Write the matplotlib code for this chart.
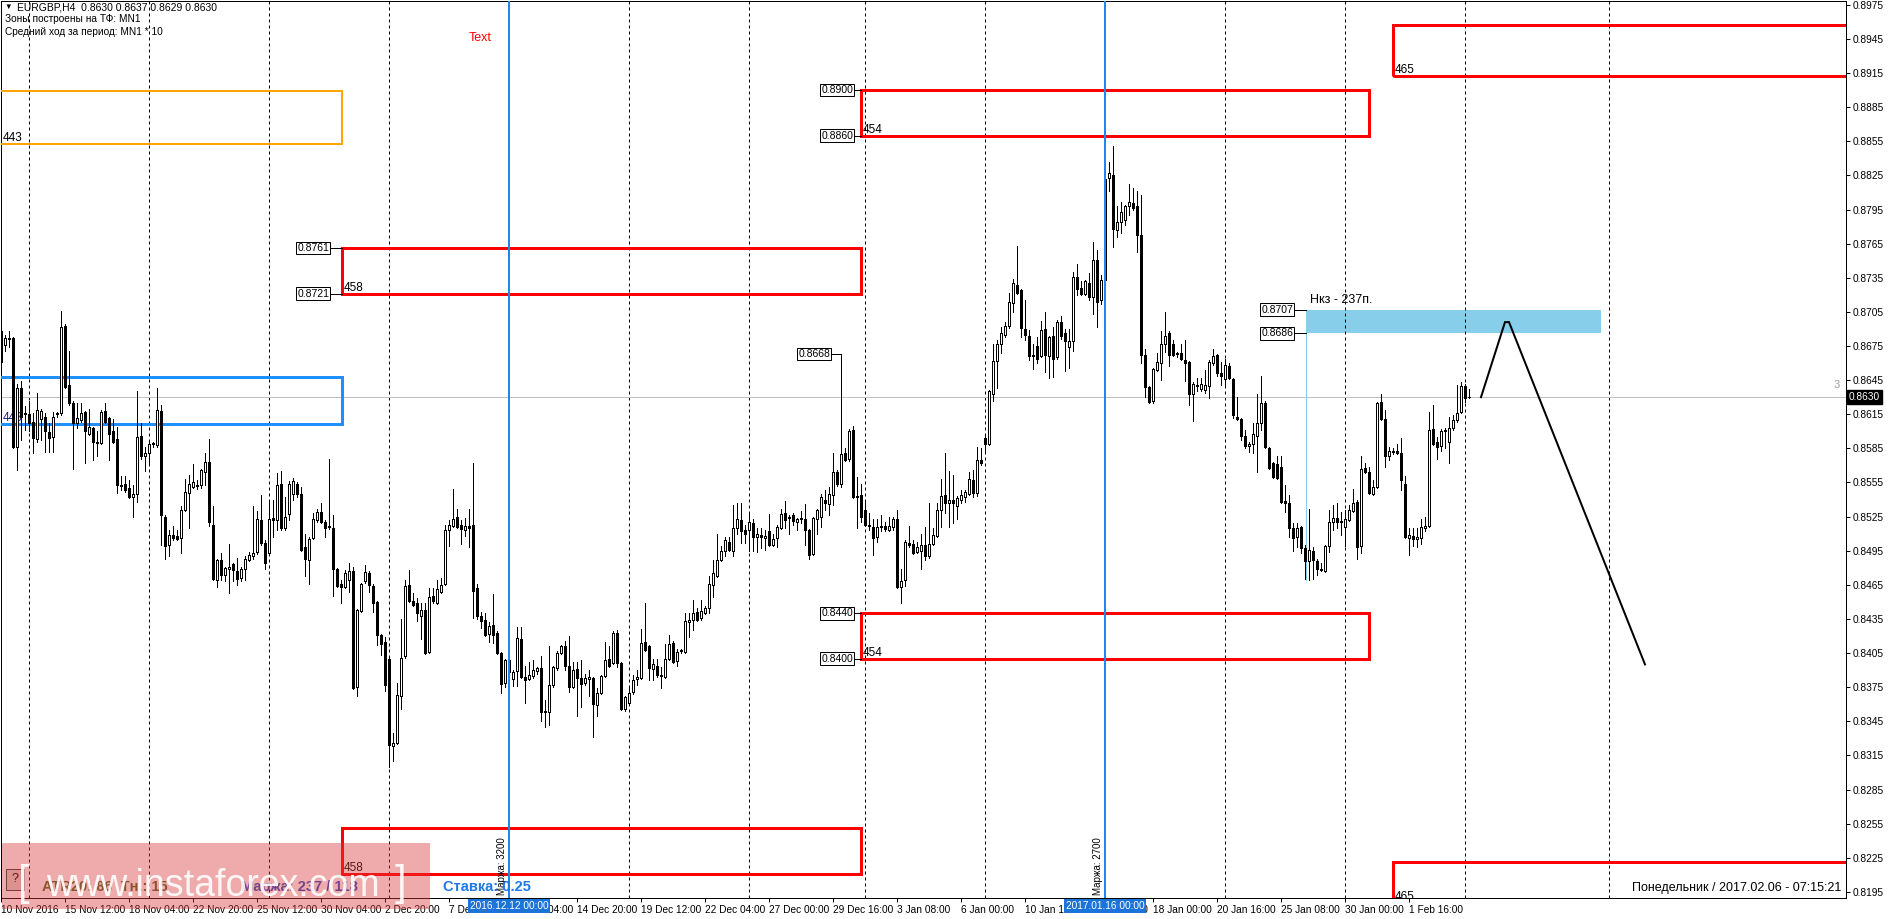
import matplotlib
matplotlib.use("Agg")
import matplotlib.pyplot as plt
from matplotlib.patches import Rectangle
from matplotlib.collections import LineCollection
import numpy as np

plt.rcParams['font.family'] = ['Liberation Sans', 'DejaVu Sans']

W, H, DPI = 1888, 919, 100
PX = 72.0 / DPI  # one pixel in points

# ------------------------------------------------------------------ data
# EURGBP H4 candles (price x 10000), bar 0 = 10 Nov 2016 20:00
opens_x1e4 = [
    8688, 8676, 8681, 8682, 8586, 8638, 8616, 8615, 8608, 8593,
    8611, 8613, 8599, 8595, 8615, 8616, 8693, 8641, 8625, 8607,
    8610, 8617, 8598, 8603, 8591, 8590, 8618, 8612, 8600, 8593,
    8553, 8554, 8550, 8542, 8545, 8596, 8578, 8581, 8589, 8588,
    8618, 8525, 8500, 8509, 8508, 8506, 8531, 8546, 8551, 8553,
    8553, 8564, 8573, 8518, 8469, 8487, 8474, 8479, 8483, 8477,
    8471, 8479, 8487, 8490, 8494, 8522, 8502, 8493, 8524, 8522,
    8554, 8515, 8527, 8545, 8554, 8545, 8498, 8487, 8506, 8522,
    8529, 8520, 8517, 8515, 8479, 8466, 8463, 8469, 8477, 8375,
    8442, 8468, 8475, 8464, 8450, 8421, 8415, 8400, 8323, 8326,
    8367, 8402, 8465, 8451, 8449, 8438, 8443, 8406, 8455, 8449,
    8459, 8466, 8513, 8517, 8525, 8518, 8513, 8517, 8518, 8462,
    8438, 8434, 8422, 8430, 8423, 8405, 8379, 8399, 8382, 8389,
    8417, 8384, 8382, 8385, 8389, 8392, 8354, 8353, 8377, 8392,
    8405, 8411, 8394, 8375, 8391, 8383, 8379, 8382, 8383, 8359,
    8370, 8385, 8400, 8396, 8423, 8396, 8356, 8361, 8371, 8382,
    8383, 8415, 8411, 8391, 8394, 8386, 8384, 8400, 8414, 8398,
    8407, 8406, 8432, 8434, 8441, 8436, 8440, 8445, 8465, 8473,
    8487, 8495, 8503, 8495, 8515, 8522, 8513, 8513, 8519, 8507,
    8509, 8506, 8512, 8500, 8506, 8515, 8528, 8525, 8526, 8520,
    8524, 8523, 8513, 8492, 8523, 8525, 8540, 8536, 8544, 8564,
    8554, 8581, 8576, 8601, 8543, 8544, 8531, 8518, 8516, 8507,
    8517, 8517, 8513, 8516, 8523, 8463, 8469, 8502, 8501, 8494,
    8495, 8500, 8490, 8501, 8508, 8531, 8544, 8537, 8540, 8534,
    8540, 8542, 8545, 8557, 8546, 8575, 8594, 8589, 8633, 8662,
    8677, 8685, 8693, 8713, 8729, 8724, 8690, 8684, 8667, 8675,
    8666, 8690, 8666, 8684, 8665, 8696, 8686, 8674, 8679, 8736,
    8726, 8721, 8730, 8718, 8751, 8715, 8733, 8823, 8825, 8777,
    8784, 8786, 8798, 8801, 8798, 8773, 8667, 8639, 8627, 8654,
    8660, 8677, 8686, 8677, 8669, 8669, 8663, 8661, 8633, 8641,
    8637, 8636, 8640, 8660, 8667, 8651, 8646, 8657, 8646, 8613,
    8611, 8596, 8587, 8589, 8596, 8607, 8625, 8585, 8572, 8571,
    8569, 8539, 8537, 8515, 8507, 8516, 8497, 8486, 8495, 8486,
    8479, 8477, 8499, 8520, 8524, 8521, 8516, 8522, 8530, 8538,
    8499, 8568, 8564, 8545, 8551, 8626, 8611, 8578, 8583, 8583,
    8581, 8554, 8506, 8508, 8505, 8506, 8515, 8517, 8602, 8591,
    8587, 8600, 8591, 8603, 8610, 8617, 8640, 8630,
]
highs_x1e4 = [
    8690, 8685, 8688, 8683, 8642, 8644, 8622, 8627, 8616, 8634,
    8620, 8616, 8607, 8617, 8617, 8706, 8694, 8671, 8627, 8625,
    8625, 8618, 8620, 8604, 8600, 8619, 8625, 8613, 8611, 8604,
    8561, 8561, 8557, 8553, 8635, 8607, 8586, 8592, 8591, 8638,
    8623, 8526, 8513, 8517, 8513, 8534, 8558, 8562, 8571, 8557,
    8567, 8581, 8593, 8534, 8488, 8493, 8481, 8501, 8484, 8489,
    8481, 8490, 8494, 8534, 8530, 8544, 8504, 8540, 8540, 8563,
    8565, 8542, 8556, 8559, 8555, 8551, 8510, 8507, 8528, 8532,
    8537, 8522, 8576, 8526, 8480, 8469, 8478, 8484, 8481, 8444,
    8467, 8482, 8477, 8466, 8451, 8422, 8419, 8401, 8335, 8379,
    8435, 8469, 8478, 8458, 8453, 8449, 8449, 8462, 8462, 8469,
    8471, 8518, 8522, 8549, 8532, 8522, 8524, 8532, 8572, 8466,
    8441, 8440, 8432, 8457, 8424, 8406, 8400, 8402, 8390, 8428,
    8428, 8394, 8397, 8399, 8393, 8402, 8364, 8411, 8394, 8407,
    8412, 8416, 8420, 8397, 8397, 8399, 8387, 8390, 8384, 8374,
    8386, 8415, 8411, 8424, 8425, 8397, 8367, 8375, 8386, 8390,
    8426, 8449, 8412, 8400, 8400, 8393, 8413, 8421, 8416, 8409,
    8409, 8440, 8440, 8452, 8445, 8452, 8446, 8473, 8487, 8510,
    8499, 8507, 8507, 8535, 8537, 8537, 8518, 8528, 8523, 8515,
    8515, 8513, 8527, 8510, 8518, 8532, 8539, 8526, 8528, 8524,
    8530, 8536, 8514, 8525, 8532, 8545, 8548, 8551, 8581, 8566,
    8668, 8585, 8602, 8605, 8560, 8554, 8540, 8528, 8523, 8523,
    8526, 8520, 8525, 8525, 8531, 8479, 8504, 8517, 8504, 8503,
    8510, 8516, 8537, 8515, 8537, 8558, 8581, 8565, 8562, 8543,
    8548, 8548, 8564, 8566, 8586, 8585, 8598, 8636, 8677, 8680,
    8692, 8696, 8722, 8734, 8763, 8725, 8715, 8689, 8677, 8683,
    8697, 8705, 8684, 8692, 8698, 8701, 8690, 8690, 8740, 8747,
    8732, 8733, 8739, 8766, 8759, 8737, 8830, 8837, 8851, 8798,
    8802, 8799, 8817, 8814, 8811, 8808, 8672, 8640, 8656, 8669,
    8688, 8705, 8688, 8680, 8670, 8677, 8680, 8662, 8643, 8647,
    8647, 8654, 8663, 8672, 8668, 8661, 8664, 8660, 8647, 8630,
    8612, 8601, 8591, 8607, 8633, 8649, 8627, 8586, 8573, 8578,
    8578, 8553, 8544, 8519, 8519, 8517, 8500, 8532, 8498, 8488,
    8484, 8500, 8531, 8535, 8537, 8529, 8531, 8535, 8549, 8540,
    8578, 8572, 8569, 8557, 8626, 8633, 8619, 8586, 8585, 8589,
    8594, 8561, 8515, 8515, 8515, 8523, 8525, 8617, 8623, 8595,
    8602, 8603, 8613, 8614, 8641, 8643, 8642, 8637,
]
lows_x1e4 = [
    8660, 8671, 8674, 8585, 8566, 8592, 8601, 8600, 8581, 8591,
    8592, 8582, 8582, 8582, 8613, 8614, 8638, 8623, 8567, 8603,
    8608, 8572, 8597, 8575, 8578, 8589, 8607, 8575, 8590, 8546,
    8548, 8547, 8541, 8525, 8538, 8576, 8565, 8572, 8586, 8586,
    8500, 8488, 8490, 8504, 8504, 8493, 8530, 8515, 8550, 8549,
    8550, 8553, 8517, 8469, 8463, 8469, 8468, 8458, 8468, 8465,
    8468, 8469, 8486, 8488, 8492, 8500, 8479, 8491, 8507, 8513,
    8513, 8513, 8522, 8540, 8542, 8495, 8473, 8466, 8505, 8520,
    8519, 8507, 8514, 8455, 8463, 8449, 8462, 8459, 8373, 8367,
    8441, 8467, 8459, 8441, 8412, 8403, 8372, 8305, 8310, 8325,
    8356, 8401, 8450, 8446, 8433, 8417, 8404, 8405, 8449, 8448,
    8458, 8465, 8499, 8516, 8515, 8501, 8508, 8498, 8436, 8435,
    8427, 8420, 8415, 8414, 8404, 8370, 8375, 8380, 8376, 8376,
    8383, 8361, 8381, 8383, 8387, 8345, 8340, 8342, 8375, 8390,
    8404, 8390, 8371, 8374, 8350, 8358, 8377, 8367, 8331, 8350,
    8369, 8384, 8393, 8395, 8393, 8355, 8354, 8360, 8369, 8377,
    8382, 8407, 8381, 8381, 8384, 8374, 8383, 8399, 8396, 8394,
    8405, 8405, 8419, 8425, 8433, 8434, 8439, 8440, 8454, 8472,
    8486, 8490, 8495, 8490, 8510, 8502, 8502, 8495, 8495, 8494,
    8497, 8496, 8499, 8499, 8498, 8514, 8515, 8510, 8518, 8513,
    8519, 8500, 8488, 8491, 8510, 8516, 8531, 8526, 8535, 8552,
    8551, 8574, 8574, 8541, 8515, 8520, 8517, 8513, 8491, 8503,
    8512, 8512, 8512, 8513, 8462, 8449, 8464, 8498, 8492, 8493,
    8479, 8487, 8489, 8500, 8507, 8516, 8528, 8516, 8519, 8523,
    8537, 8538, 8544, 8542, 8543, 8570, 8581, 8588, 8627, 8638,
    8669, 8683, 8691, 8705, 8721, 8683, 8680, 8663, 8655, 8660,
    8665, 8652, 8647, 8648, 8664, 8681, 8653, 8656, 8671, 8720,
    8720, 8720, 8715, 8703, 8692, 8712, 8728, 8811, 8762, 8771,
    8774, 8781, 8790, 8795, 8758, 8660, 8630, 8625, 8625, 8653,
    8645, 8670, 8657, 8666, 8665, 8663, 8644, 8623, 8609, 8635,
    8635, 8634, 8629, 8658, 8649, 8641, 8641, 8646, 8612, 8610,
    8592, 8585, 8582, 8581, 8564, 8601, 8585, 8567, 8559, 8558,
    8537, 8529, 8507, 8495, 8498, 8493, 8470, 8469, 8470, 8474,
    8477, 8476, 8494, 8513, 8515, 8509, 8499, 8521, 8529, 8488,
    8493, 8563, 8545, 8544, 8550, 8610, 8569, 8575, 8580, 8580,
    8548, 8506, 8491, 8499, 8498, 8501, 8512, 8516, 8588, 8576,
    8583, 8585, 8572, 8601, 8608, 8616, 8626, 8629,
]
closes_x1e4 = [
    8661, 8682, 8682, 8586, 8638, 8613, 8615, 8607, 8594, 8619,
    8618, 8600, 8594, 8613, 8616, 8692, 8639, 8625, 8607, 8612,
    8616, 8600, 8604, 8591, 8590, 8617, 8608, 8598, 8591, 8553,
    8552, 8548, 8542, 8545, 8595, 8578, 8581, 8589, 8590, 8619,
    8526, 8499, 8509, 8506, 8505, 8531, 8547, 8554, 8555, 8552,
    8566, 8573, 8520, 8470, 8487, 8474, 8480, 8481, 8478, 8470,
    8479, 8488, 8491, 8493, 8523, 8502, 8484, 8523, 8522, 8553,
    8515, 8525, 8554, 8556, 8545, 8496, 8488, 8505, 8523, 8529,
    8520, 8515, 8516, 8479, 8464, 8463, 8475, 8477, 8374, 8443,
    8466, 8476, 8465, 8449, 8421, 8413, 8377, 8324, 8326, 8368,
    8401, 8464, 8451, 8447, 8440, 8443, 8405, 8454, 8451, 8461,
    8465, 8513, 8518, 8523, 8516, 8514, 8517, 8515, 8460, 8438,
    8433, 8421, 8429, 8421, 8405, 8378, 8399, 8388, 8388, 8418,
    8384, 8381, 8386, 8390, 8392, 8353, 8353, 8377, 8393, 8405,
    8411, 8394, 8375, 8390, 8383, 8378, 8383, 8384, 8360, 8370,
    8385, 8399, 8394, 8423, 8396, 8356, 8366, 8370, 8381, 8384,
    8414, 8408, 8392, 8395, 8386, 8385, 8400, 8413, 8397, 8406,
    8408, 8433, 8434, 8440, 8434, 8442, 8445, 8466, 8475, 8487,
    8495, 8504, 8496, 8515, 8523, 8512, 8510, 8520, 8507, 8510,
    8507, 8508, 8500, 8505, 8516, 8527, 8522, 8524, 8521, 8523,
    8523, 8513, 8491, 8524, 8531, 8542, 8537, 8545, 8564, 8554,
    8580, 8575, 8600, 8542, 8542, 8525, 8518, 8517, 8506, 8516,
    8516, 8514, 8517, 8523, 8463, 8468, 8503, 8500, 8493, 8498,
    8500, 8490, 8501, 8509, 8531, 8543, 8537, 8540, 8537, 8541,
    8544, 8547, 8558, 8546, 8575, 8572, 8589, 8635, 8662, 8677,
    8686, 8693, 8714, 8730, 8722, 8691, 8685, 8666, 8666, 8664,
    8689, 8667, 8683, 8664, 8696, 8684, 8679, 8679, 8736, 8725,
    8721, 8732, 8718, 8751, 8714, 8733, 8822, 8827, 8778, 8784,
    8793, 8798, 8802, 8796, 8773, 8667, 8639, 8626, 8655, 8661,
    8677, 8684, 8667, 8667, 8668, 8664, 8660, 8633, 8642, 8640,
    8642, 8641, 8661, 8666, 8651, 8649, 8658, 8647, 8614, 8611,
    8596, 8587, 8589, 8598, 8607, 8625, 8586, 8568, 8560, 8559,
    8538, 8537, 8515, 8506, 8515, 8497, 8486, 8496, 8487, 8479,
    8478, 8499, 8520, 8524, 8520, 8520, 8523, 8531, 8537, 8498,
    8567, 8564, 8546, 8551, 8625, 8611, 8578, 8583, 8582, 8581,
    8557, 8507, 8509, 8505, 8507, 8516, 8517, 8601, 8589, 8586,
    8600, 8601, 8603, 8610, 8616, 8640, 8629, 8630,
]

# time axis (bar index -> label)
date_tick_bars = list(range(0, 353, 16))
date_tick_labels = ["10 Nov 2016", "15 Nov 12:00", "18 Nov 04:00", "22 Nov 20:00",
                    "25 Nov 12:00", "30 Nov 04:00", "2 Dec 20:00", "7 Dec 12:00",
                    "12 Dec 04:00", "14 Dec 20:00", "19 Dec 12:00", "22 Dec 04:00",
                    "27 Dec 00:00", "29 Dec 16:00", "3 Jan 08:00", "6 Jan 00:00",
                    "10 Jan 16:00", "13 Jan 08:00", "18 Jan 00:00", "20 Jan 16:00",
                    "25 Jan 08:00", "30 Jan 00:00", "1 Feb 16:00"]
week_separator_bars = [7, 37, 67, 97, 127, 157, 187, 216, 246, 276, 306, 336, 366, 402]
event_bars = [127, 276]
event_dates = ["2016.12.12 00:00", "2017.01.16 00:00"]
event_notes = ["Маржа: 3200", "Маржа: 2700"]

price_ticks = [round(0.8195 + 0.003 * k, 4) for k in range(27)]
bid_price = 0.8630

# monthly zones: bar span and price span
zone_start = [-5, -5, 85.25, 85.25, 215, 215, 348, 348]
zone_end = [85.25, 85.25, 215, 215, 342, 342, 480, 480]
zone_high = [0.8899, 0.8648, 0.8761, 0.8251, 0.8900, 0.8440, 0.8957, 0.8221]
zone_low = [0.8853, 0.8606, 0.8721, 0.8211, 0.8860, 0.8400, 0.8912, 0.8185]
zone_names = ["443", "443", "458", "458", "454", "454", "465", "465"]

# price call-outs (anchor bar, price)
callout_bars = [85.25, 85.25, 215, 215, 215, 215, 326.25, 326.25, 210]
callout_prices = [0.8761, 0.8721, 0.8900, 0.8860, 0.8440, 0.8400, 0.8707, 0.8686, 0.8668]

# target zone
target_bars = [326.25, 400]
target_prices = [0.8686, 0.8707]
target_low = 0.8469
target_text = "Нкз - 237п."

# forecast path
forecast_bars = [370, 376, 377, 411]
forecast_prices = [0.8630, 0.8696, 0.8696, 0.8395]

# ------------------------------------------------------------------ styles
zone_colors = ["#FFA500", "#1E90FF", "#FF0000", "#FF0000", "#FF0000", "#FF0000", "#FF0000", "#FF0000"]
zone_widths = [2, 3, 3, 3, 3, 3, 3, 3]
zone_label_colors = ["#000000", "#202080", "#000000", "#000000", "#000000", "#000000", "#000000", "#000000"]
callout_gap_px = [11, 11, 6, 6, 6, 6, 11, 11, 9]
EVENT_BLUE = "#1E88F0"

# ------------------------------------------------------------------ figure
fig = plt.figure(figsize=(W / DPI, H / DPI), dpi=DPI)
fig.patch.set_facecolor("white")
L_PX, R_PX, T_PX, B_PX = 1, 1846, 1, 898
BAR_PX = 4.0
ax = fig.add_axes([L_PX / W, 1 - B_PX / H, (R_PX - L_PX) / W, (B_PX - T_PX) / H])
ax.set_facecolor("white")


def price_at(ypx):
    return 0.8975 - (ypx - 4.8) / 11373.0


ax.set_xlim(0, (R_PX - L_PX) / BAR_PX)
ax.set_ylim(price_at(B_PX), price_at(T_PX))

n = min(len(opens_x1e4), len(highs_x1e4), len(lows_x1e4), len(closes_x1e4))
O = np.array(opens_x1e4[:n]) / 1e4
Hh = np.array(highs_x1e4[:n]) / 1e4
Ll = np.array(lows_x1e4[:n]) / 1e4
C = np.array(closes_x1e4[:n]) / 1e4
idx = np.arange(n)

# target zone (behind everything)
ax.add_patch(Rectangle((target_bars[0], target_prices[0]), target_bars[1] - target_bars[0],
                       target_prices[1] - target_prices[0], facecolor="#87CEEB",
                       edgecolor="none", zorder=1))
ax.plot([target_bars[0], target_bars[0]], [target_low, target_prices[0]], color="#87CEEB",
        lw=PX * 1.2, zorder=1.5)
ax.text(target_bars[0] + 1, target_prices[1] + 0.0003, target_text, fontsize=9,
        ha="left", va="bottom", zorder=8)

# week separators
for b in week_separator_bars:
    ax.axvline(b, color="black", lw=PX, ls=(0, (3, 3)), zorder=2)

# bid line
ax.axhline(bid_price, color="#C0C0C0", lw=PX, zorder=2)

# zones
for s, e, hi, lo, name, col, lw, lc in zip(zone_start, zone_end, zone_high, zone_low,
                                           zone_names, zone_colors, zone_widths, zone_label_colors):
    ax.add_patch(Rectangle((s, lo), e - s, hi - lo, fill=False, edgecolor=col,
                           lw=lw * PX, zorder=3, joinstyle="miter"))
    ax.text(max(s, 0) + 0.3, lo, name, fontsize=8.5, ha="left", va="bottom",
            color=lc, zorder=4, clip_on=True)

# candles
segs = [[(i, l), (i, h)] for i, l, h in zip(idx, Ll, Hh)]
ax.add_collection(LineCollection(segs, colors="black", linewidths=PX, antialiased=False, zorder=5))
bull = C >= O
ax.bar(idx[bull], (C - O)[bull], bottom=O[bull], width=0.5, facecolor="white",
       edgecolor="black", linewidth=PX, antialiased=False, zorder=6)
ax.bar(idx[~bull], (O - C)[~bull], bottom=C[~bull], width=0.5, facecolor="black",
       edgecolor="black", linewidth=PX, antialiased=False, zorder=6)

# event (margin) lines
for b, note in zip(event_bars, event_notes):
    ax.axvline(b, color=EVENT_BLUE, lw=2 * PX, zorder=7)
    ax.text(b - 0.6, price_at(B_PX - 3), note, rotation=90, rotation_mode="anchor",
            ha="left", va="bottom", fontsize=7, zorder=8)

# price call-outs
for b, p, gap in zip(callout_bars, callout_prices, callout_gap_px):
    xr = b - gap / BAR_PX
    ax.plot([xr, b], [p, p], color="black", lw=PX, zorder=8)
    ax.text(xr - 0.45, p, f"{p:.4f}", fontsize=7.5, ha="right", va="center", zorder=9,
            bbox=dict(boxstyle="square,pad=0.12", fc="white", ec="black", lw=PX))

# forecast path
ax.plot(forecast_bars, forecast_prices, color="black", lw=2 * PX, zorder=8,
        solid_joinstyle="miter")

ax.text(117, price_at(38), "Text", color="red", fontsize=9, ha="left", va="center")

# axes styling
for sp in ax.spines.values():
    sp.set_color("black")
    sp.set_linewidth(PX)
ax.yaxis.tick_right()
ax.set_yticks(price_ticks)
ax.set_yticklabels([f"{p:.4f}" for p in price_ticks], fontsize=7.3)
ax.tick_params(axis="y", direction="out", length=3, width=PX, pad=2, colors="black")
ax.set_xticks(date_tick_bars)
ax.set_xticklabels(date_tick_labels, fontsize=7.3)
for lbl in ax.get_xticklabels():
    lbl.set_horizontalalignment("left")
ax.tick_params(axis="x", direction="out", length=3, width=PX, pad=2, colors="black")


def ftext(xpx, ypx, s, **kw):
    return fig.text(xpx / W, 1 - ypx / H, s, **kw)


# current price tag on the price scale
ftext(1849, 397, f"{bid_price:.4f}", color="white", fontsize=7.3, ha="left", va="center",
      bbox=dict(boxstyle="square,pad=0.15", fc="black", ec="black"))
ftext(1834, 385, "3", color="#A0A0A0", fontsize=8, ha="left", va="center")

# highlighted event dates on the time scale
for b, d in zip(event_bars, event_dates):
    ftext(L_PX + b * BAR_PX, 906, d, color="white", fontsize=7.3, ha="center", va="center",
          bbox=dict(boxstyle="square,pad=0.2", fc="#1C74D8", ec="none"))

# header texts
ftext(4, 7, "▼", fontsize=5.5, ha="left", va="center")
ftext(17, 7, "EURGBP,H4  0.8630 0.8637 0.8629 0.8630", fontsize=7.5, ha="left", va="center")
ftext(5, 19.5, "Зоны построены на ТФ: MN1", fontsize=7.3, ha="left", va="center")
ftext(5, 32, "Средний ход за период: MN1 * 10", fontsize=7.3, ha="left", va="center")

# bottom info panel
ftext(1841, 888, "Понедельник / 2017.02.06 - 07:15:21", fontsize=9, ha="right", va="center")
ftext(443, 887, "Ставка: 0.25", fontsize=10.5, weight="bold", color="#1E78E6",
      ha="left", va="center")
ftext(42, 887, "ATR20: 86  Тн.: 15", fontsize=10.5, weight="bold", color="#4E6B2A",
      ha="left", va="center")
ftext(241, 887, "Маржа: 237 / 118", fontsize=10.5, weight="bold", color="#2A50C8",
      ha="left", va="center")
fig.patches.append(Rectangle((6 / W, 1 - 890 / H), 18 / W, 21 / H, transform=fig.transFigure,
                             facecolor="#D8D4CC", edgecolor="#404040", lw=PX, zorder=4))
ftext(15, 879.5, "?", fontsize=9, ha="center", va="center", zorder=5)

# watermark
fig.patches.append(Rectangle((2 / W, 1 - 909 / H), 428 / W, 66 / H, transform=fig.transFigure,
                             facecolor=(0.86, 0.22, 0.22), alpha=0.42, edgecolor="none", zorder=6))
ftext(213, 886, "www.instaforex.com", fontsize=27, color="white", alpha=0.9,
      ha="center", va="center", zorder=7)
ftext(24, 884, "[", fontsize=30, color="white", alpha=0.9, ha="center", va="center", zorder=7)
ftext(400, 884, "]", fontsize=30, color="white", alpha=0.9, ha="center", va="center", zorder=7)

fig.savefig("out.png", dpi=DPI, facecolor="white")
